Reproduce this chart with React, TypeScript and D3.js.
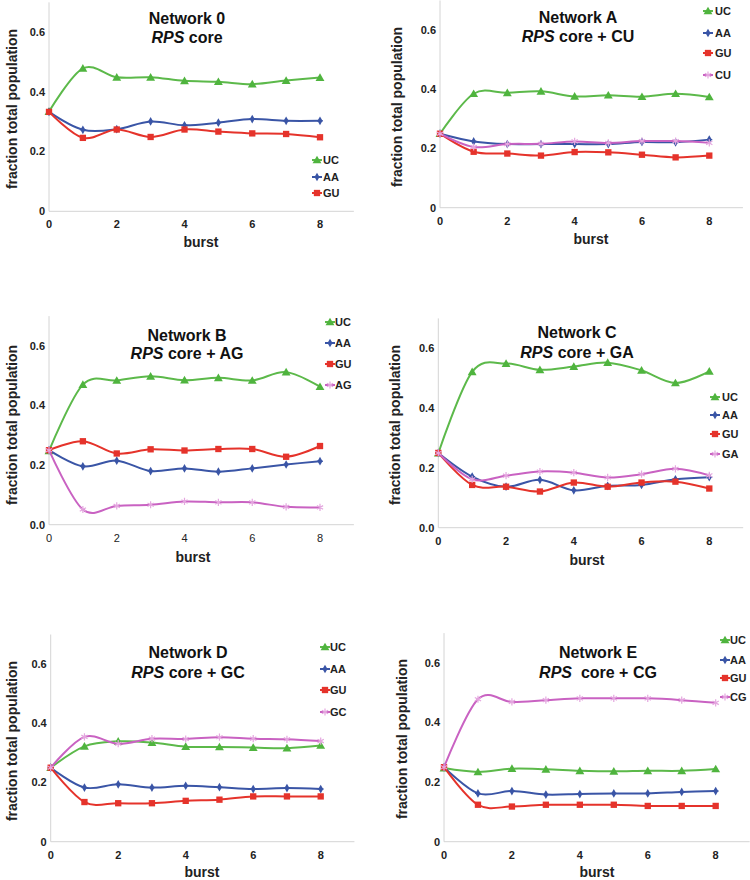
import React from "react";
import * as d3 from "d3";

// ---------- DATA ----------
const bursts = [0, 1, 2, 3, 4, 5, 6, 7, 8];
const yTicks = [0, 0.2, 0.4, 0.6];
const xTicks = [0, 2, 4, 6, 8];

const net0Title = "Network 0";
const net0Sub = "core";
const net0UC = [0.334, 0.479, 0.449, 0.449, 0.437, 0.434, 0.426, 0.438, 0.448];
const net0AA = [0.333, 0.273, 0.275, 0.301, 0.288, 0.297, 0.309, 0.303, 0.303];
const net0GU = [0.333, 0.246, 0.274, 0.249, 0.274, 0.267, 0.261, 0.259, 0.248];

const netATitle = "Network A";
const netASub = "core + CU";
const netAUC = [0.25, 0.385, 0.388, 0.393, 0.376, 0.38, 0.375, 0.385, 0.374];
const netAAA = [0.25, 0.224, 0.215, 0.215, 0.215, 0.215, 0.222, 0.221, 0.23];
const netAGU = [0.25, 0.189, 0.183, 0.176, 0.188, 0.187, 0.179, 0.17, 0.176];
const netACU = [0.25, 0.205, 0.215, 0.216, 0.224, 0.219, 0.225, 0.225, 0.219];

const netBTitle = "Network B";
const netBSub = "core + AG";
const netBUC = [0.248, 0.47, 0.484, 0.498, 0.485, 0.493, 0.484, 0.512, 0.463];
const netBAA = [0.25, 0.196, 0.215, 0.18, 0.189, 0.178, 0.189, 0.202, 0.213];
const netBGU = [0.25, 0.28, 0.239, 0.253, 0.249, 0.254, 0.254, 0.228, 0.264];
const netBAG = [0.25, 0.051, 0.063, 0.067, 0.078, 0.075, 0.075, 0.06, 0.058];

const netCTitle = "Network C";
const netCSub = "core + GA";
const netCUC = [0.249, 0.521, 0.549, 0.528, 0.539, 0.552, 0.526, 0.484, 0.523];
const netCAA = [0.25, 0.171, 0.137, 0.16, 0.125, 0.14, 0.143, 0.162, 0.169];
const netCGU = [0.25, 0.143, 0.137, 0.121, 0.151, 0.137, 0.151, 0.154, 0.131];
const netCGA = [0.25, 0.162, 0.174, 0.188, 0.184, 0.168, 0.179, 0.197, 0.175];

const netDTitle = "Network D";
const netDSub = "core + GC";
const netDUC = [0.25, 0.322, 0.339, 0.335, 0.321, 0.32, 0.318, 0.316, 0.325];
const netDAA = [0.25, 0.183, 0.194, 0.183, 0.189, 0.184, 0.178, 0.181, 0.178];
const netDGU = [0.25, 0.134, 0.13, 0.13, 0.138, 0.142, 0.153, 0.153, 0.153];
const netDGC = [0.25, 0.354, 0.331, 0.348, 0.347, 0.353, 0.348, 0.346, 0.34];

const netETitle = "Network E";
const netESub = " core + CG";
const netEUC = [0.247, 0.234, 0.245, 0.243, 0.238, 0.236, 0.238, 0.238, 0.244];
const netEAA = [0.25, 0.162, 0.17, 0.158, 0.16, 0.162, 0.162, 0.167, 0.17];
const netEGU = [0.25, 0.124, 0.118, 0.124, 0.124, 0.124, 0.12, 0.12, 0.12];
const netECG = [0.25, 0.478, 0.469, 0.475, 0.481, 0.481, 0.481, 0.475, 0.466];

// ---------- STYLE ----------
const FONT = "'Liberation Sans', Arial, Helvetica, sans-serif";
const COLORS: Record<string, { line: string; mark: string; shape: string }> = {
  UC: { line: "#5cb94a", mark: "#4fb43e", shape: "tri" },
  AA: { line: "#3a55a6", mark: "#3a55a6", shape: "dia" },
  GU: { line: "#e5332b", mark: "#e5332b", shape: "sq" },
  pink: { line: "#c962c2", mark: "#e4a6df", shape: "ast" },
};

type Series = { name: string; values: number[]; style: string };
type Layout = {
  x0: number; xStep: number; y0: number; yStep: number;
  zeroFmt: string; xTickBold: boolean;
  titleX: number; titleY: number; subY: number;
  burstX: number; burstY: number; ylabX: number; ylabY: number;
  legMarkX: number; legTextX: number; legRows: number[];
};

const layouts: Layout[] = [
  { x0: 49, xStep: 33.875, y0: 211.3, yStep: 59.7, zeroFmt: "0", xTickBold: true, titleX: 187, titleY: 24, subY: 43, burstX: 201, burstY: 247, ylabX: 12, ylabY: 109, legMarkX: 317, legTextX: 323, legRows: [160, 177, 193] },
  { x0: 440, xStep: 33.66, y0: 207.7, yStep: 59.2, zeroFmt: "0", xTickBold: true, titleX: 578, titleY: 23, subY: 42, burstX: 591, burstY: 244, ylabX: 397, ylabY: 107, legMarkX: 708, legTextX: 715, legRows: [11, 33, 53, 75] },
  { x0: 49, xStep: 33.875, y0: 524.7, yStep: 59.6, zeroFmt: "0.0", xTickBold: false, titleX: 187, titleY: 341, subY: 359, burstX: 193, burstY: 562, ylabX: 12, ylabY: 425, legMarkX: 330, legTextX: 335, legRows: [322, 343, 364, 385] },
  { x0: 438.3, xStep: 33.875, y0: 527.7, yStep: 59.8, zeroFmt: "0.0", xTickBold: true, titleX: 577, titleY: 338, subY: 358, burstX: 587, burstY: 565, ylabX: 395, ylabY: 425, legMarkX: 715, legTextX: 722, legRows: [397, 415, 434, 454] },
  { x0: 50.7, xStep: 33.75, y0: 841.7, yStep: 59.2, zeroFmt: "0", xTickBold: true, titleX: 188, titleY: 658, subY: 678, burstX: 202, burstY: 877, ylabX: 12, ylabY: 741, legMarkX: 325, legTextX: 330, legRows: [647, 669, 690, 712] },
  { x0: 444, xStep: 33.96, y0: 841.7, yStep: 59.6, zeroFmt: "0", xTickBold: true, titleX: 598, titleY: 658, subY: 678, burstX: 597, burstY: 877, ylabX: 402, ylabY: 739, legMarkX: 725, legTextX: 730, legRows: [640, 660, 678, 697] },
];

const panels: { title: string; sub: string; series: Series[] }[] = [
  { title: net0Title, sub: net0Sub, series: [
    { name: "UC", values: net0UC, style: "UC" },
    { name: "AA", values: net0AA, style: "AA" },
    { name: "GU", values: net0GU, style: "GU" },
  ] },
  { title: netATitle, sub: netASub, series: [
    { name: "UC", values: netAUC, style: "UC" },
    { name: "AA", values: netAAA, style: "AA" },
    { name: "GU", values: netAGU, style: "GU" },
    { name: "CU", values: netACU, style: "pink" },
  ] },
  { title: netBTitle, sub: netBSub, series: [
    { name: "UC", values: netBUC, style: "UC" },
    { name: "AA", values: netBAA, style: "AA" },
    { name: "GU", values: netBGU, style: "GU" },
    { name: "AG", values: netBAG, style: "pink" },
  ] },
  { title: netCTitle, sub: netCSub, series: [
    { name: "UC", values: netCUC, style: "UC" },
    { name: "AA", values: netCAA, style: "AA" },
    { name: "GU", values: netCGU, style: "GU" },
    { name: "GA", values: netCGA, style: "pink" },
  ] },
  { title: netDTitle, sub: netDSub, series: [
    { name: "UC", values: netDUC, style: "UC" },
    { name: "AA", values: netDAA, style: "AA" },
    { name: "GU", values: netDGU, style: "GU" },
    { name: "GC", values: netDGC, style: "pink" },
  ] },
  { title: netETitle, sub: netESub, series: [
    { name: "UC", values: netEUC, style: "UC" },
    { name: "AA", values: netEAA, style: "AA" },
    { name: "GU", values: netEGU, style: "GU" },
    { name: "CG", values: netECG, style: "pink" },
  ] },
];

function Marker({ x, y, style }: { x: number; y: number; style: string }) {
  const c = COLORS[style];
  if (c.shape === "tri") {
    const p = d3.symbol().type(d3.symbolTriangle).size(34)();
    return <path d={p || ""} transform={`translate(${x},${y + 0.8})`} fill={c.mark} />;
  }
  if (c.shape === "sq") {
    const p = d3.symbol().type(d3.symbolSquare).size(40)();
    return <path d={p || ""} transform={`translate(${x},${y})`} fill={c.mark} />;
  }
  if (c.shape === "dia") {
    const p = d3.symbol().type(d3.symbolDiamond).size(22)();
    return (
      <g transform={`translate(${x},${y})`}>
        <path d={p || ""} fill={c.mark} />
        <line x1={-3} x2={3} y1={0} y2={0} stroke={c.mark} strokeWidth={1.2} />
      </g>
    );
  }
  const p = d3.symbol().type(d3.symbolAsterisk).size(36)();
  return <path d={p || ""} transform={`translate(${x},${y})`} fill="none" stroke={c.mark} strokeWidth={1.2} />;
}

function Panel({ L, P }: { L: Layout; P: { title: string; sub: string; series: Series[] } }) {
  const x = d3.scaleLinear().domain([0, 9]).range([L.x0, L.x0 + 9 * L.xStep]);
  const y = d3.scaleLinear().domain([0, 0.7]).range([L.y0, L.y0 - 3.5 * L.yStep]);
  const line = d3
    .line<number>()
    .x((_, i) => x(bursts[i]))
    .y((d) => y(d))
    .curve(d3.curveCardinal.tension(0));
  const fmt = (v: number) => (v === 0 ? L.zeroFmt : d3.format(".1f")(v));
  const axisColor = "#d4d4d4";
  return (
    <g fontFamily={FONT}>
      {/* axes */}
      <line x1={x(0)} x2={x(0)} y1={y(0.7)} y2={y(0)} stroke={axisColor} strokeWidth={1} />
      <line x1={x(0)} x2={x(9)} y1={y(0)} y2={y(0)} stroke={axisColor} strokeWidth={1} />
      {yTicks.map((t) => (
        <text key={"y" + t} x={x(0) - 4} y={y(t)} dy="0.35em" textAnchor="end" fontSize={11} fontWeight="bold" fill="#222">
          {fmt(t)}
        </text>
      ))}
      {xTicks.map((t) => (
        <text key={"x" + t} x={x(t)} y={y(0) + 13} dy="0.35em" textAnchor="middle" fontSize={11} fontWeight={L.xTickBold ? "bold" : "normal"} fill="#222">
          {t}
        </text>
      ))}
      <text x={L.burstX} y={L.burstY} textAnchor="middle" fontSize={14} fontWeight="bold" fill="#222">burst</text>
      <text transform={`translate(${L.ylabX},${L.ylabY}) rotate(-90)`} dy="0.35em" textAnchor="middle" fontSize={14} fontWeight="bold" fill="#222">
        fraction total population
      </text>
      {/* title */}
      <text x={L.titleX} y={L.titleY} textAnchor="middle" fontSize={16} fontWeight="bold" fill="#111">{P.title}</text>
      <text x={L.titleX} y={L.subY} textAnchor="middle" fontSize={16} fontWeight="bold" fill="#111" style={{ whiteSpace: "pre" }}>
        <tspan fontStyle="italic">RPS</tspan>
        <tspan>{" " + P.sub}</tspan>
      </text>
      {/* series */}
      {P.series.map((s) => (
        <g key={s.name}>
          <path d={line(s.values) || ""} fill="none" stroke={COLORS[s.style].line} strokeWidth={2} />
          {s.values.map((v, i) => (
            <Marker key={i} x={x(bursts[i])} y={y(v)} style={s.style} />
          ))}
        </g>
      ))}
      {/* legend */}
      {P.series.map((s, i) => (
        <g key={"leg" + s.name}>
          <line x1={L.legMarkX - 5} x2={L.legMarkX + 5} y1={L.legRows[i]} y2={L.legRows[i]} stroke={COLORS[s.style].line} strokeWidth={2} />
          <Marker x={L.legMarkX} y={L.legRows[i]} style={s.style} />
          <text x={L.legTextX} y={L.legRows[i]} dy="0.35em" fontSize={11} fontWeight="bold" fill="#222">{s.name}</text>
        </g>
      ))}
    </g>
  );
}

export default function App() {
  return (
    <svg width={750} height={880} style={{ position: "absolute", left: 0, top: 0, background: "#fff" }}>
      <rect width={750} height={880} fill="#fff" />
      {panels.map((P, i) => (
        <Panel key={i} L={layouts[i]} P={P} />
      ))}
    </svg>
  );
}
